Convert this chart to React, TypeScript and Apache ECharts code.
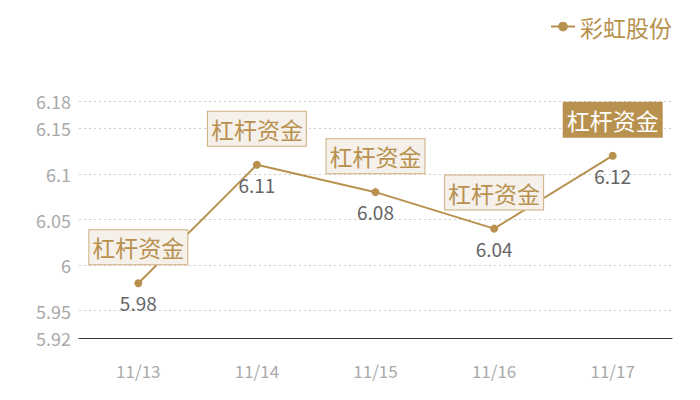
import React, { useEffect, useRef } from "react";
import * as echarts from "echarts";

const categories = ["11/13", "11/14", "11/15", "11/16", "11/17"];
const values = [5.98, 6.11, 6.08, 6.04, 6.12];
const seriesName = "彩虹股份";
const markText = "杠杆资金";
const highlightIndex = 4;
const yMin = 5.92;
const yMax = 6.18;

const GOLD = "#b8914f";
const FONT = "'Noto Sans CJK SC', 'Noto Sans', sans-serif";

export default function App() {
  const ref = useRef<HTMLDivElement>(null);
  useEffect(() => {
    if (!ref.current) return;
    const chart = echarts.init(ref.current, undefined, { renderer: "svg" });
    const markData = values.map((v, i) => {
      const hi = i === highlightIndex;
      return {
        coord: [categories[i], v],
        value: v,
        label: {
          show: true,
          formatter: markText,
          position: "inside",
          offset: [0, -36],
          fontSize: 23,
          lineHeight: 27,
          fontFamily: FONT,
          color: hi ? "#ffffff" : GOLD,
          backgroundColor: hi ? GOLD : "#f5f0ea",
          borderColor: hi ? GOLD : "#cfae7e",
          borderWidth: 1,
          padding: [4, 3, 3, 3],
        },
      };
    });
    chart.setOption({
      animation: false,
      textStyle: { fontFamily: FONT },
      legend: {
        right: 15,
        top: 2,
        itemWidth: 24,
        itemHeight: 12,
        itemGap: 6,
        textStyle: { color: GOLD, fontSize: 23, fontFamily: FONT },
        data: [seriesName],
      },
      grid: { left: 71, right: 20, top: 93, bottom: 54 },
      xAxis: {
        type: "category",
        data: categories,
        boundaryGap: true,
        axisLine: { show: true, lineStyle: { color: "#333", width: 1 } },
        axisTick: { show: false },
        axisLabel: { color: "#aaaaaa", fontSize: 17, margin: 24, fontFamily: FONT },
        splitLine: { show: false },
      },
      yAxis: {
        type: "value",
        min: yMin,
        max: yMax,
        axisLine: { show: false },
        axisTick: { show: false },
        axisLabel: { color: "#aaaaaa", fontSize: 18, margin: 8, fontFamily: FONT },
        splitLine: { show: true, lineStyle: { color: "#cccccc", type: [2, 3] } },
      },
      series: [
        {
          name: seriesName,
          type: "line",
          data: values,
          symbol: "circle",
          symbolSize: 8,
          lineStyle: { color: GOLD, width: 2 },
          itemStyle: { color: GOLD },
          label: {
            show: true,
            position: "bottom",
            distance: 6,
            color: "#666666",
            fontSize: 19,
            fontFamily: FONT,
          },
          markPoint: {
            symbol: "circle",
            symbolSize: 1,
            itemStyle: { color: "rgba(0,0,0,0)" },
            data: markData,
          },
        },
      ],
    });
    return () => chart.dispose();
  }, []);
  return <div ref={ref} style={{ width: 684, height: 384 }} />;
}
